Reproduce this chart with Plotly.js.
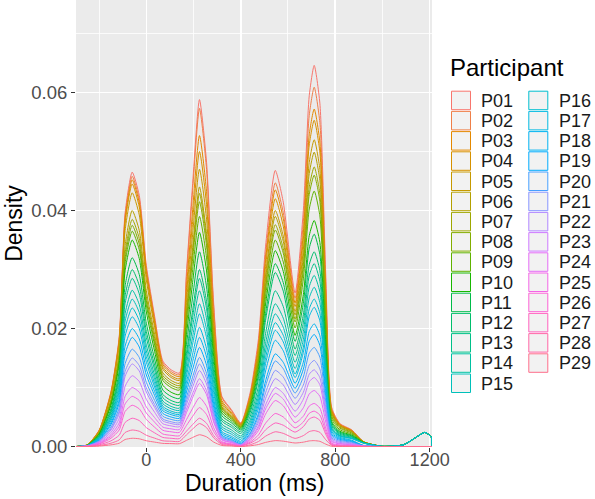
<!DOCTYPE html>
<html>
<head>
<meta charset="utf-8">
<script src="https://cdn.plot.ly/plotly-3.0.1.min.js"></script>
<style>html,body{margin:0;padding:0;background:#fff}#chart{width:595px;height:499px}</style>
</head>
<body>
<div id="chart"></div>
<script>
// Duration grid (ms) at which each participant's density was read
const durationMs = [-298,-250,-200,-150,-115,-90,-60,-30,0,35,70,105,140,170,195,225,255,285,320,360,400,440,475,505,546,580,630,665,690,711,735,760,785,820,870,920,1000,1090,1140,1180,1207,1210];

const participants = ['P01','P02','P03','P04','P05','P06','P07','P08','P09','P10','P11','P12','P13','P14','P15','P16','P17','P18','P19','P20','P21','P22','P23','P24','P25','P26','P27','P28','P29'];

// Per-participant density, in units of 1e-5 (stacked in the chart, P29 at the bottom)
const P01 = [0,0,4,14,28,60,70,67,51,42,31,30,29,74,111,150,123,62,22,16,10,34,77,150,210,176,87,192,331,370,329,155,24,9,6,1,0,0,0,0,0,0];
const P02 = [0,0,4,12,24,51,60,59,46,39,31,30,29,188,322,460,377,180,49,30,10,23,47,87,120,104,78,189,331,370,329,155,24,9,6,1,0,0,0,0,0,0];
const P03 = [0,0,4,14,28,60,70,70,56,50,40,40,38,124,196,270,221,108,32,21,10,27,57,108,150,128,63,109,172,190,170,83,17,9,6,1,0,0,0,0,0,0];
const P04 = [0,1,9,30,60,128,150,134,93,62,36,30,29,129,213,300,246,119,35,23,10,33,74,143,200,168,82,174,295,330,293,139,22,9,6,1,0,0,0,0,0,0];
const P05 = [0,2,18,60,120,255,300,264,181,115,63,50,48,141,219,300,246,119,35,23,10,21,40,73,100,88,60,116,190,210,188,91,17,9,6,1,0,0,0,0,0,0];
const P06 = [0,1,9,30,60,128,150,137,98,70,45,40,38,65,87,110,90,47,18,14,10,26,54,101,140,120,68,136,225,250,226,114,28,17,12,2,0,0,0,0,0,0];
const P07 = [0,1,6,20,40,85,100,95,72,57,42,40,38,76,107,140,115,58,21,15,10,20,37,66,90,80,52,84,128,140,129,70,24,17,12,2,0,0,0,0,0,0];
const P08 = [0,1,6,20,40,85,100,95,72,57,42,40,38,117,182,250,205,100,31,20,10,29,64,122,170,151,101,163,248,270,247,129,38,26,18,3,0,0,0,0,0,0];
const P09 = [0,1,9,30,60,128,150,149,118,102,81,80,76,148,208,270,221,113,40,30,20,40,73,132,180,159,125,267,450,500,449,221,47,26,18,3,0,0,0,0,0,0];
const P10 = [0,2,18,60,120,255,300,270,191,131,81,70,67,164,245,330,271,135,46,33,20,44,87,160,220,191,102,147,212,230,208,106,27,17,12,2,0,0,0,0,0,0];
const P11 = [0,1,12,40,80,170,200,187,139,106,75,70,67,153,225,300,246,129,51,41,30,45,69,114,150,143,131,194,279,300,270,134,30,17,12,2,0,0,0,0,0,0];
const P12 = [0,1,9,30,60,128,150,140,103,78,54,50,48,86,117,150,123,72,38,34,30,64,123,226,310,263,108,137,186,200,182,94,26,17,12,2,0,0,0,0,0,0];
const P13 = [0,1,12,40,80,170,200,181,129,90,57,50,48,108,158,210,172,100,51,45,40,62,99,166,220,196,116,144,189,200,182,94,26,17,12,2,0,0,0,0,0,0];
const P14 = [0,1,9,30,60,128,150,137,98,70,45,40,38,105,162,220,180,99,44,37,30,47,76,128,170,154,105,139,188,200,179,87,17,9,6,1,0,0,0,0,0,0];
const P15 = [0,1,9,30,60,128,150,137,98,70,45,40,38,87,128,170,139,80,39,35,30,45,69,114,150,135,92,131,186,200,179,87,17,9,6,1,0,0,0,0,0,0];
const P16 = [0,1,9,30,60,128,150,134,93,62,36,30,29,103,165,230,189,102,45,37,30,43,62,100,130,113,61,89,129,140,129,70,24,17,25,40,3,30,150,240,160,0];
const P17 = [0,1,12,40,80,170,200,175,119,74,39,30,29,81,125,170,139,75,31,26,20,38,70,125,170,150,96,164,255,280,252,126,29,17,12,2,0,0,0,0,0,0];
const P18 = [0,1,9,30,60,128,150,137,98,70,45,40,38,87,128,170,139,75,31,26,20,46,90,167,230,196,87,118,166,180,164,86,25,17,12,2,0,0,0,0,0,0];
const P19 = [0,1,12,40,80,170,200,178,124,82,48,40,38,87,128,170,139,70,23,17,10,23,47,87,120,108,80,132,202,220,200,102,27,17,12,2,0,0,0,0,0,0];
const P20 = [0,1,9,30,60,128,150,137,98,70,45,40,38,65,87,110,90,47,18,14,10,28,60,115,160,142,89,137,203,220,200,102,27,17,12,2,0,0,0,0,0,0];
const P21 = [0,1,6,20,40,85,100,92,67,49,33,30,29,59,84,110,90,42,10,5,0,17,48,98,140,132,104,123,154,160,147,78,24,17,12,2,0,0,0,0,0,0];
const P22 = [0,1,12,40,80,170,200,178,124,82,48,40,38,76,107,140,115,58,21,15,10,27,57,108,150,143,114,117,129,130,120,66,23,17,12,2,0,0,0,0,0,0];
const P23 = [0,1,12,40,80,170,200,181,129,90,57,50,48,60,69,80,66,30,7,4,0,12,34,70,100,98,100,145,206,220,197,95,18,9,6,1,0,0,0,0,0,0];
const P24 = [0,1,9,30,60,128,150,140,103,78,54,50,48,119,178,240,197,96,30,20,10,23,47,87,120,113,97,142,205,220,200,102,27,17,12,2,0,0,0,0,0,0];
const P25 = [0,1,9,30,60,128,150,143,108,86,63,60,57,99,134,170,139,65,15,8,0,26,75,154,220,190,86,99,123,130,117,59,14,9,6,1,0,0,0,0,0,0];
const P26 = [0,2,13,44,88,187,220,198,139,95,58,50,48,97,137,180,148,68,16,8,0,19,54,112,160,140,72,79,96,100,91,47,13,9,6,1,0,0,0,0,0,0];
const P27 = [0,1,12,40,80,170,200,181,129,90,57,50,48,63,76,90,74,39,16,13,10,27,57,108,150,138,106,152,214,230,202,92,9,0,0,0,0,0,0,0,0,0];
const P28 = [0,1,8,28,56,119,140,128,93,67,44,40,38,94,141,190,156,72,17,9,0,18,51,105,150,132,78,111,158,170,153,75,16,9,6,1,0,0,0,0,0,0];
const P29 = [0,1,8,28,56,119,140,131,98,75,53,50,48,104,151,200,164,76,18,9,0,12,34,70,100,91,60,74,95,100,88,40,4,0,0,0,0,0,0,0,0,0];

const xTicks = [0, 400, 800, 1200];
const yTicks = [0, 0.02, 0.04, 0.06];

const series = [P01,P02,P03,P04,P05,P06,P07,P08,P09,P10,P11,P12,P13,P14,P15,P16,P17,P18,P19,P20,P21,P22,P23,P24,P25,P26,P27,P28,P29];
const UNIT = 1e-5;

// ggplot2 default hue palette (HCL, c=100, l=65)
function hcl2hex(h, c, l) {
  const hr = h * Math.PI / 180;
  const U = c * Math.cos(hr), V = c * Math.sin(hr);
  const Y = l > 8 ? Math.pow((l + 16) / 116, 3) : l / 903.3;
  const xn = 0.95047, yn = 1.0, zn = 1.08883;
  const den = xn + 15 * yn + 3 * zn;
  const un = 4 * xn / den, vn = 9 * yn / den;
  const u = U / (13 * l) + un, v = V / (13 * l) + vn;
  const X = 9 * Y * u / (4 * v);
  const Z = -X / 3 - 5 * Y + 3 * Y / v;
  const lin = [
    3.2404542 * X - 1.5371385 * Y - 0.4985314 * Z,
    -0.9692660 * X + 1.8760108 * Y + 0.0415560 * Z,
    0.0556434 * X - 0.2040259 * Y + 1.0572252 * Z
  ];
  return '#' + lin.map(t => {
    let s = t <= 0.0031308 ? 12.92 * t : 1.055 * Math.pow(t, 1 / 2.4) - 0.055;
    s = Math.max(0, Math.min(1, s));
    return Math.round(s * 255).toString(16).padStart(2, '0');
  }).join('');
}
const n = participants.length;
const colors = participants.map((_, i) => hcl2hex(15 + 360 * i / n, 100, 65));

// stack: P29 at the bottom, P01 on top
const cum = [];
let running = durationMs.map(() => 0);
for (let i = n - 1; i >= 0; i--) {
  running = running.map((r, j) => r + series[i][j] * UNIT);
  cum[i] = running.slice();
}

const traces = participants.map((p, i) => ({
  type: 'scatter', mode: 'lines', name: p,
  x: durationMs, y: cum[i],
  line: {color: colors[i], width: 1, shape: 'spline', smoothing: 0.6},
  hoverinfo: 'skip', showlegend: false
}));

// manual two-column legend (ggplot style)
const L = 76, R = 432, T = 0, B = 447;
const px = v => (v - L) / (R - L);
const py = v => (B - v) / (B - T);
const shapes = [];
const annotations = [];
annotations.push({
  xref: 'paper', yref: 'paper', x: px(448), y: py(68), xanchor: 'left', yanchor: 'middle',
  text: 'Participant', showarrow: false, font: {size: 24, color: '#000000'}
});
participants.forEach((p, i) => {
  const col = i < 15 ? 0 : 1;
  const row = i < 15 ? i : i - 15;
  const kx = col === 0 ? 451 : 528.3;
  const ky = 90.7 + row * 20.2;
  shapes.push({
    type: 'rect', xref: 'paper', yref: 'paper',
    x0: px(kx + 0.5), x1: px(kx + 19.5), y0: py(ky + 0.5), y1: py(ky + 19),
    fillcolor: '#F2F2F2', line: {color: colors[i], width: 1}
  });
  annotations.push({
    xref: 'paper', yref: 'paper', x: px(col === 0 ? 479 : 556.5), y: py(ky + 10),
    xanchor: 'left', yanchor: 'middle', text: p, showarrow: false,
    font: {size: 18, color: '#1A1A1A'}
  });
});
// x-axis title placed under the tick labels
annotations.push({
  xref: 'paper', yref: 'paper', x: 0.5, y: py(483), xanchor: 'center', yanchor: 'middle',
  text: 'Duration (ms)', showarrow: false, font: {size: 23, color: '#000000'}
});

const layout = {
  width: 595, height: 499,
  margin: {l: L, r: 595 - R, t: T, b: 499 - B},
  paper_bgcolor: '#FFFFFF', plot_bgcolor: '#EBEBEB',
  font: {family: '"Liberation Sans", Arial, sans-serif', color: '#000000'},
  xaxis: {
    range: [-298, 1210], tickmode: 'array', tickvals: xTicks, ticktext: xTicks.map(String),
    showgrid: true, gridcolor: '#FFFFFF', gridwidth: 1.6, zeroline: false, showline: false,
    ticks: 'outside', ticklen: 4, tickwidth: 1, tickcolor: '#333333',
    ticklabelposition: 'outside', ticklabelstandoff: -8,
    tickfont: {size: 18, color: '#4D4D4D'},
    minor: {tickmode: 'array', tickvals: [-200, 200, 600, 1000], showgrid: true, gridcolor: '#FFFFFF', gridwidth: 0.8, ticks: ''}
  },
  yaxis: {
    range: [-0.00008, 0.07568], tickmode: 'array', tickvals: yTicks, ticktext: yTicks.map(v => v.toFixed(2)),
    showgrid: true, gridcolor: '#FFFFFF', gridwidth: 1.6, zeroline: false, showline: false,
    ticks: 'outside', ticklen: 4, tickwidth: 1, tickcolor: '#333333',
    tickfont: {size: 18.5, color: '#4D4D4D'},
    minor: {tickmode: 'array', tickvals: [0.01, 0.03, 0.05, 0.07], showgrid: true, gridcolor: '#FFFFFF', gridwidth: 0.8, ticks: ''},
    title: {text: 'Density', font: {size: 23, color: '#000000'}, standoff: 2}
  },
  shapes: shapes,
  annotations: annotations,
  showlegend: false
};

Plotly.newPlot('chart', traces, layout, {displayModeBar: false, staticPlot: true});
</script>
</body>
</html>
